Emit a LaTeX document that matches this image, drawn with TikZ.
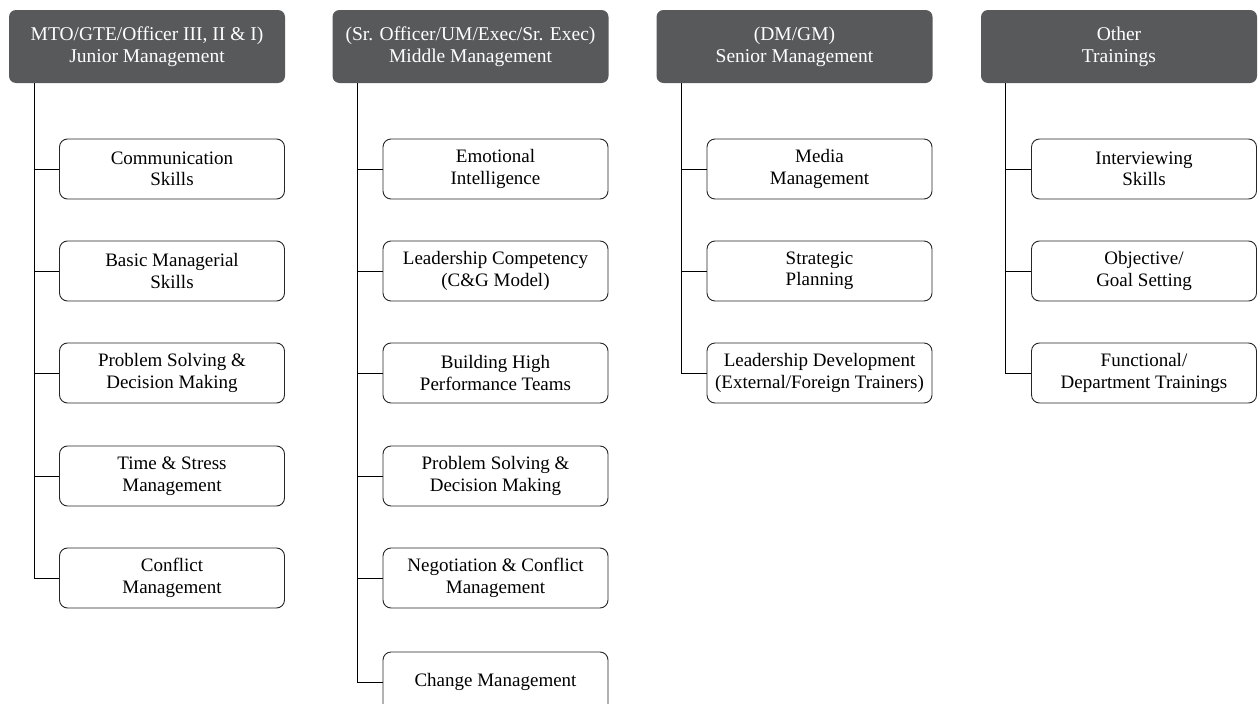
\documentclass[tikz,border=0pt]{standalone}
\usepackage{fontspec}
\setmainfont{Liberation Serif}
\definecolor{headgray}{HTML}{58595B}

\begin{document}
\begin{tikzpicture}[x=1pt, y=-1pt]
    \tikzset{
        head/.style={
            fill=headgray, draw=none, rounded corners=7pt,
            minimum width=276pt, minimum height=73pt, inner sep=0pt,
            text=white, align=center,
            font=\fontsize{19.5}{22}\selectfont,
        },
        item/.style={
            draw=black!85, line width=0.9pt, rounded corners=8pt,
            minimum width=225pt, minimum height=60pt, inner sep=0pt,
            align=center,
            font=\fontsize{19}{21.5}\selectfont,
        },
        link/.style={draw=black, line width=0.9pt},
    }
    \useasboundingbox (0,0) rectangle (1259,704);

    % Headers
    \node[head] (h1) at (147, 46.5) {MTO/GTE/Officer III, II \& I)\\Junior Management};
    \node[head] (h2) at (470.5, 46.5) {(Sr. Officer/UM/Exec/Sr. Exec)\\Middle Management};
    \node[head] (h3) at (794.5, 46.5) {(DM/GM)\\Senior Management};
    \node[head] (h4) at (1119, 46.5) {Other\\Trainings};

    % Junior management
    \node[item] (a1) at (172, 169) {Communication\\Skills};
    \node[item] (a2) at (172, 271) {Basic Managerial\\Skills};
    \node[item] (a3) at (172, 373) {Problem Solving \&\\Decision Making};
    \node[item] (a4) at (172, 476) {Time \& Stress\\Management};
    \node[item] (a5) at (172, 578) {Conflict\\Management};

    % Middle management
    \node[item] (b1) at (495.5, 169) {Emotional\\Intelligence};
    \node[item] (b2) at (495.5, 271) {Leadership Competency\\(C\&G Model)};
    \node[item] (b3) at (495.5, 373) {Building High\\Performance Teams};
    \node[item] (b4) at (495.5, 476) {Problem Solving \&\\Decision Making};
    \node[item] (b5) at (495.5, 578) {Negotiation \& Conflict\\Management};
    \node[item] (b6) at (495.5, 682) {Change Management};

    % Senior management
    \node[item] (c1) at (819.5, 169) {Media\\Management};
    \node[item] (c2) at (819.5, 271) {Strategic\\Planning};
    \node[item] (c3) at (819.5, 373) {Leadership Development\\(External/Foreign Trainers)};

    % Other trainings
    \node[item] (d1) at (1144, 169) {Interviewing\\Skills};
    \node[item] (d2) at (1144, 271) {Objective/\\Goal Setting};
    \node[item] (d3) at (1144, 373) {Functional/\\Department Trainings};

    % Trunks
    \coordinate (t1) at ([xshift=26pt]h1.south west);
    \coordinate (t2) at ([xshift=25pt]h2.south west);
    \coordinate (t3) at ([xshift=25pt]h3.south west);
    \coordinate (t4) at ([xshift=25pt]h4.south west);
    \draw[link] (t1) |- (a5.west);
    \draw[link] (t2) |- (b6.west);
    \draw[link] (t3) |- (c3.west);
    \draw[link] (t4) |- (d3.west);

    % Branches
    \draw[link] (a1.west) -- (a1.west -| t1);
    \draw[link] (a2.west) -- (a2.west -| t1);
    \draw[link] (a3.west) -- (a3.west -| t1);
    \draw[link] (a4.west) -- (a4.west -| t1);
    \draw[link] (b1.west) -- (b1.west -| t2);
    \draw[link] (b2.west) -- (b2.west -| t2);
    \draw[link] (b3.west) -- (b3.west -| t2);
    \draw[link] (b4.west) -- (b4.west -| t2);
    \draw[link] (b5.west) -- (b5.west -| t2);
    \draw[link] (c1.west) -- (c1.west -| t3);
    \draw[link] (c2.west) -- (c2.west -| t3);
    \draw[link] (d1.west) -- (d1.west -| t4);
    \draw[link] (d2.west) -- (d2.west -| t4);

\end{tikzpicture}
\end{document}
